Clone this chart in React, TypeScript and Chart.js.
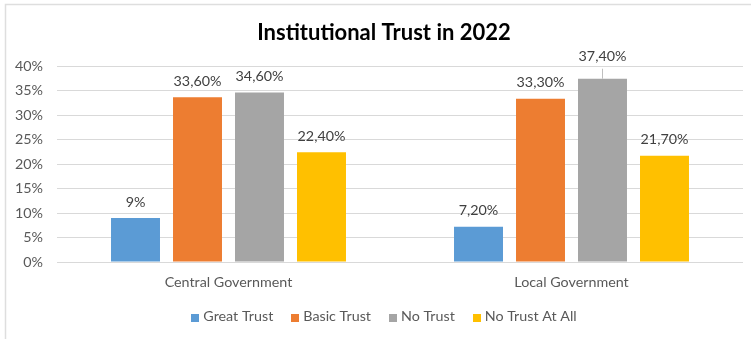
import { useEffect, useRef } from "react";
import { Chart, registerables } from "chart.js";

Chart.register(...registerables);

// Survey data (percent of respondents)
const categories = ["Central Government", "Local Government"];
const seriesNames = ["Great Trust", "Basic Trust", "No Trust", "No Trust At All"];
const greatTrust = [9, 7.2];
const basicTrust = [33.6, 33.3];
const noTrust = [34.6, 37.4];
const noTrustAtAll = [22.4, 21.7];
const seriesColors = ["#5B9BD5", "#ED7D31", "#A5A5A5", "#FFC000"];

const titleText = "Institutional Trust in 2022";
const yMin = 0;
const yMax = 40;
const yStep = 5;

const FONT = "Lato, 'Open Sans', sans-serif";
const TEXT_SIZE = 14.3;
const TEXT_COLOR = "#595959";
const LABEL_COLOR = "#404040";
const CENTER_X = 384;

// The one value label that sits higher with a short leader line
const leaderLabel = { dataset: 2, index: 1 };

const formatValue = (v: number) =>
  Number.isInteger(v) ? `${v}%` : `${v.toFixed(2).replace(".", ",")}%`;

const framePlugin = {
  id: "frame",
  beforeDraw(chart: any) {
    const { ctx, width, height } = chart;
    ctx.save();
    ctx.strokeStyle = "#dedede";
    ctx.lineWidth = 1.5;
    ctx.beginPath();
    ctx.moveTo(5.5, height);
    ctx.lineTo(5.5, 4.5);
    ctx.lineTo(width, 4.5);
    ctx.stroke();
    ctx.restore();
  },
};

const titlePlugin = {
  id: "customTitle",
  afterDraw(chart: any) {
    const ctx = chart.ctx;
    ctx.save();
    ctx.font = `bold 22px ${FONT}`;
    ctx.fillStyle = "#000000";
    ctx.textAlign = "center";
    ctx.textBaseline = "alphabetic";
    ctx.fillText(titleText, CENTER_X, 39.5);
    ctx.restore();
  },
};

const valueLabelPlugin = {
  id: "valueLabels",
  afterDatasetsDraw(chart: any) {
    const ctx = chart.ctx;
    ctx.save();
    ctx.font = `${TEXT_SIZE}px ${FONT}`;
    ctx.fillStyle = LABEL_COLOR;
    ctx.textAlign = "center";
    ctx.textBaseline = "middle";
    chart.data.datasets.forEach((ds: any, di: number) => {
      const meta = chart.getDatasetMeta(di);
      meta.data.forEach((bar: any, i: number) => {
        const v = ds.data[i] as number;
        let y = bar.y - 16;
        if (di === leaderLabel.dataset && i === leaderLabel.index) {
          y = bar.y - 22;
          const lx = Math.round(bar.x) + 0.5;
          ctx.strokeStyle = "#bfbfbf";
          ctx.lineWidth = 1;
          ctx.beginPath();
          ctx.moveTo(lx, bar.y - 10);
          ctx.lineTo(lx, bar.y);
          ctx.stroke();
        }
        ctx.fillText(formatValue(v), bar.x, y);
      });
    });
    ctx.restore();
  },
};

const legendPlugin = {
  id: "bottomLegend",
  afterDraw(chart: any) {
    const ctx = chart.ctx;
    const box = 8;
    const boxGap = 4;
    const itemGap = 18;
    const y = 316.5;
    ctx.save();
    ctx.font = `${TEXT_SIZE}px ${FONT}`;
    ctx.textBaseline = "middle";
    ctx.textAlign = "left";
    const items = chart.data.datasets.map((ds: any) => ({
      label: ds.label as string,
      color: ds.backgroundColor as string,
      w: ctx.measureText(ds.label).width,
    }));
    const total =
      items.reduce((s: number, it: any) => s + box + boxGap + it.w, 0) +
      itemGap * (items.length - 1);
    let x = CENTER_X - total / 2;
    items.forEach((it: any) => {
      ctx.fillStyle = it.color;
      ctx.fillRect(Math.round(x), 314, box, box);
      ctx.fillStyle = TEXT_COLOR;
      ctx.fillText(it.label, x + box + boxGap, y);
      x += box + boxGap + it.w + itemGap;
    });
    ctx.restore();
  },
};

export default function App() {
  const canvasRef = useRef<HTMLCanvasElement | null>(null);

  useEffect(() => {
    document.body.style.margin = "0";
    let chart: Chart | null = null;
    let cancelled = false;

    const build = () => {
      if (cancelled || !canvasRef.current) return;
      const series = [greatTrust, basicTrust, noTrust, noTrustAtAll];
      chart = new Chart(canvasRef.current, {
        type: "bar",
        data: {
          labels: categories,
          datasets: series.map((values, k) => ({
            label: seriesNames[k],
            data: values,
            backgroundColor: seriesColors[k],
            borderWidth: 0,
            categoryPercentage: 0.723,
            barPercentage: 0.79,
          })),
        },
        options: {
          responsive: false,
          animation: false,
          events: [],
          layout: { padding: { top: 66, right: 8, bottom: 37, left: 0 } },
          plugins: {
            legend: { display: false },
            title: { display: false },
            tooltip: { enabled: false },
          },
          scales: {
            x: {
              grid: { display: false },
              border: { display: false },
              ticks: {
                color: TEXT_COLOR,
                font: { family: FONT, size: TEXT_SIZE },
                padding: 4,
              },
              afterFit: (scale: any) => {
                scale.height = 40;
              },
            },
            y: {
              min: yMin,
              max: yMax,
              border: { display: false },
              grid: { color: "#d9d9d9", drawTicks: false },
              ticks: {
                stepSize: yStep,
                color: TEXT_COLOR,
                font: { family: FONT, size: TEXT_SIZE },
                padding: 14,
                callback: (v: any) => `${v}%`,
              },
              afterFit: (scale: any) => {
                scale.width = 57;
              },
            },
          },
        },
        plugins: [framePlugin, valueLabelPlugin, titlePlugin, legendPlugin],
      });
    };

    if ((document as any).fonts && (document as any).fonts.load) {
      Promise.all([
        (document as any).fonts.load(`${TEXT_SIZE}px Lato`),
        (document as any).fonts.load(`bold 22px Lato`),
      ]).then(build, build);
    } else {
      build();
    }

    return () => {
      cancelled = true;
      if (chart) chart.destroy();
    };
  }, []);

  return (
    <div style={{ width: 751, height: 339, background: "#ffffff" }}>
      <canvas ref={canvasRef} width={751} height={339} style={{ display: "block" }} />
    </div>
  );
}
